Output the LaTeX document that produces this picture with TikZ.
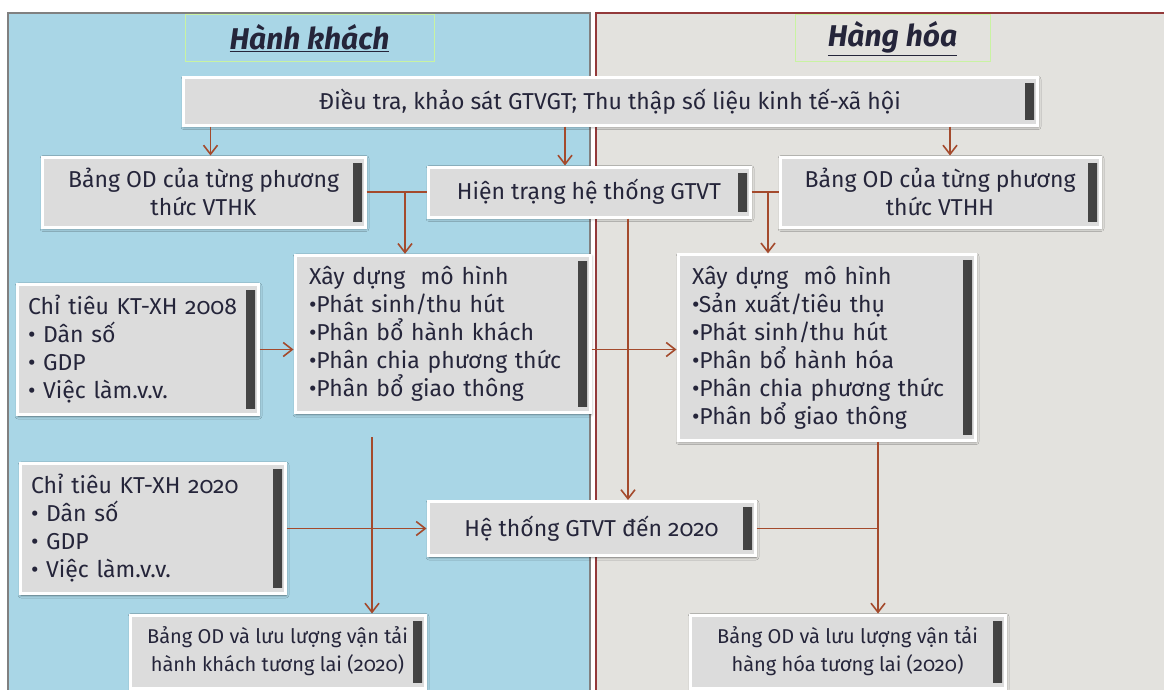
\documentclass[tikz,border=0pt]{standalone}
\usepackage{fontspec}
\setmainfont{Fira Sans}[Numbers=OldStyle]
\usepackage{xcolor}
\usetikzlibrary{arrows.meta,shadows.blur,calc}

\definecolor{paxblue}{HTML}{A9D6E6}
\definecolor{goodsgray}{HTML}{E3E2DE}
\definecolor{tilegray}{HTML}{DCDCDC}
\definecolor{linkred}{HTML}{A44A2C}
\definecolor{panelred}{HTML}{93393A}
\definecolor{titlegreen}{HTML}{C9F3A2}
\definecolor{inkc}{HTML}{25253A}

\tikzset{
tile/.style={fill=tilegray, draw=white, line width=3pt, text=inkc, inner sep=11pt,
  font=\fontsize{23}{28}\selectfont,
  blur shadow={shadow xshift=1pt, shadow yshift=-1.5pt, shadow blur radius=3pt, shadow opacity=50},
  path picture={\shade[left color=black!30, right color=black!75]
    ([xshift=-12pt,yshift=-6pt]path picture bounding box.north east) rectangle
    ([xshift=-3pt,yshift=6pt]path picture bounding box.south east);}},
smalltile/.style={tile, inner xsep=5pt, font=\fontsize{20}{28}\selectfont},
title/.style={draw=titlegreen, line width=1pt, text=inkc,
  font=\fontsize{30}{34}\selectfont\bfseries\itshape},
link/.style={draw=linkred, line width=1.6pt, -{Straight Barb[length=9pt,width=14pt]}},
joint/.style={draw=linkred, line width=1.6pt}
}

\begin{document}
\begin{tikzpicture}[x=1pt,y=-1pt]
%\draw[help lines] (0,0) grid[step=50] (1164,690);
\useasboundingbox (0,0) rectangle (1164,690);

% two panels
\filldraw[fill=paxblue, draw=black!50, line width=1.2pt] (8,13) rectangle (590,700);
\filldraw[fill=goodsgray, draw=panelred, line width=1.2pt] (596,13) rectangle (1175,700);

\node[title, minimum width=249, minimum height=47] (paxtitle) at (309.5,38.5) {\underline{Hành khách}};
\node[title, minimum width=195, minimum height=47] (goodstitle) at (892.5,38.5) {\underline{Hàng hóa}};

\node[tile, minimum width=854, minimum height=47] (survey) at (610,101.5)
  {Điều tra, khảo sát GTVGT; Thu thập số liệu kinh tế-xã hội};
\node[tile, minimum width=323, minimum height=70, align=center] (odpax) at (203.5,192)
  {Bảng OD của từng phương\\thức VTHK};
\node[tile, minimum width=322, minimum height=50] (netnow) at (589,192)
  {Hiện trạng hệ thống GTVT};
\node[tile, minimum width=320, minimum height=70, align=center] (odgoods) at (940,192)
  {Bảng OD của từng phương\\thức VTHH};

\node[tile, minimum width=295, minimum height=152, text width=267, align=left] (modelpax) at (442.5,334)
  {Xây dựng\ \ mô hình\\•Phát sinh/thu hút\\•Phân bổ hành khách\\•Phân chia phương thức\\•Phân bổ giao thông};
\node[tile, minimum width=297, minimum height=185, text width=269, align=left] (modelgoods) at (826.5,347.5)
  {Xây dựng\ \ mô hình\\•Sản xuất/tiêu thụ\\•Phát sinh/thu hút\\•Phân bổ hành hóa\\•Phân chia phương thức\\•Phân bổ giao thông};

\node[tile, minimum width=241, minimum height=125, text width=219, align=left] (kpi08) at (137.5,349.5)
  {Chỉ tiêu KT-XH 2008\\• Dân số\\• GDP\\• Việc làm.v.v.};
\node[tile, minimum width=265, minimum height=127, text width=243, align=left] (kpi20) at (152.5,528.5)
  {Chỉ tiêu KT-XH 2020\\• Dân số\\• GDP\\• Việc làm.v.v.};
\node[tile, minimum width=327, minimum height=54] (net20) at (591.5,528.5)
  {Hệ thống GTVT đến 2020};

\node[smalltile, minimum width=295, minimum height=73, align=center] (flowpax) at (277.5,651.5)
  {Bảng OD và lưu lượng vận tải\\hành khách tương lai (2020)};
\node[smalltile, minimum width=315, minimum height=73, align=center] (flowgoods) at (847.5,651.5)
  {Bảng OD và lưu lượng vận tải\\hàng hóa tương lai (2020)};

% junction points
\coordinate (jl) at (405,192);
\coordinate (jr) at (768,192);
\coordinate (jn) at (628,192);
\coordinate (jp) at (372,437);
\coordinate (jg) at (878,528.5);

\draw[link] ([xshift=7pt]odpax.north |- survey.south) -- ([xshift=7pt]odpax.north);
\draw[link] ([xshift=-24pt]netnow.north |- survey.south) -- ([xshift=-24pt]netnow.north);
\draw[link] ([xshift=10pt]odgoods.north |- survey.south) -- ([xshift=10pt]odgoods.north);

\draw[joint] (odpax.east) -- (netnow.west);
\draw[link] (jl) -- (jl |- modelpax.north);
\draw[joint] (netnow.east) -- (odgoods.west);
\draw[link] (jr) -- (jr |- modelgoods.north);

\draw[link] (kpi08.east) -- (kpi08.east -| modelpax.west);
\draw[link] (kpi08.east -| modelpax.east) -- (kpi08.east -| modelgoods.west);
\draw[link] (jn |- netnow.south) -- (jn |- net20.north);

\draw[link] (jp) -- (jp |- flowpax.north);
\draw[link] (kpi20.east) -- (net20.west);
\draw[joint] (net20.east) -- (jg);
\draw[link] (jg |- modelgoods.south) -- (jg |- flowgoods.north);
\end{tikzpicture}
\end{document}
